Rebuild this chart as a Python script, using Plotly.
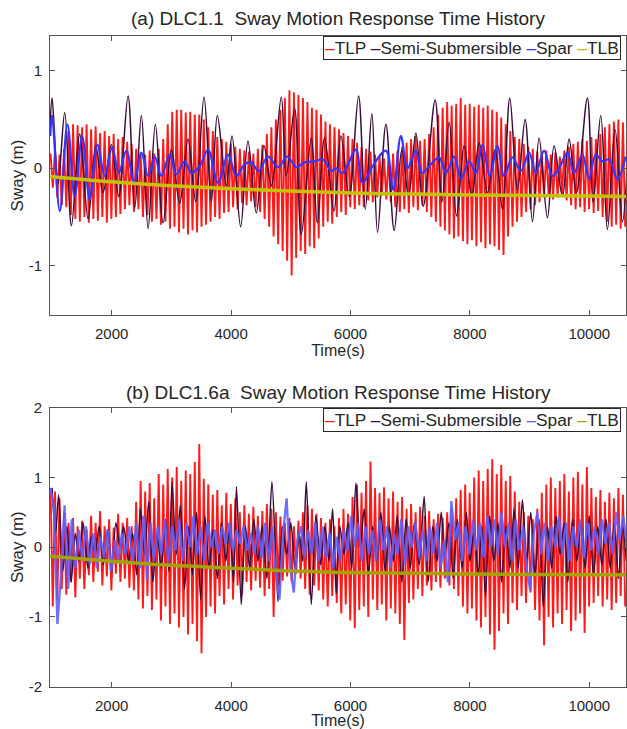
import plotly.graph_objects as go

# ---------------- data ----------------
# TLP: fast oscillation, listed as successive crest / trough values
TLP_START = 975.0     # time of first crest (s)
TLP_PERIOD = 75.5     # crest-to-crest spacing (s)

tlp_a_crest = [
    0.15, 0.18, 0.14, 0.20, 0.38, 0.45, 0.44, 0.42, 0.45, 0.40,
    0.43, 0.36, 0.38, 0.33, 0.35, 0.30, 0.32, 0.27, 0.25, 0.20,
    0.16, 0.14, 0.18, 0.15, 0.20, 0.30, 0.45, 0.58, 0.60, 0.60,
    0.57, 0.58, 0.55, 0.55, 0.50, 0.42, 0.38, 0.32, 0.30, 0.27,
    0.25, 0.22, 0.20, 0.18, 0.17, 0.15, 0.20, 0.24, 0.35, 0.42,
    0.50, 0.60, 0.72, 0.80, 0.78, 0.75, 0.72, 0.68, 0.62, 0.60,
    0.55, 0.48, 0.45, 0.42, 0.40, 0.36, 0.33, 0.30, 0.26, 0.22,
    0.20, 0.17, 0.14, 0.12, 0.10, 0.12, 0.15, 0.18, 0.22, 0.26,
    0.30, 0.33, 0.28, 0.30, 0.35, 0.42, 0.55, 0.62, 0.68, 0.64,
    0.66, 0.72, 0.65, 0.66, 0.63, 0.65, 0.62, 0.64, 0.60, 0.58,
    0.52, 0.45, 0.38, 0.32, 0.30, 0.25, 0.22, 0.20, 0.17, 0.15,
    0.18, 0.14, 0.16, 0.12, 0.18, 0.22, 0.25, 0.27, 0.30, 0.28,
    0.32, 0.30, 0.35, 0.42, 0.45, 0.48, 0.50, 0.47,
]
tlp_a_trough = [
    -0.20, -0.30, -0.38, -0.40, -0.48, -0.52, -0.55, -0.50, -0.56, -0.52,
    -0.54, -0.50, -0.56, -0.52, -0.50, -0.47, -0.42, -0.38, -0.45, -0.42,
    -0.50, -0.48, -0.55, -0.52, -0.58, -0.55, -0.62, -0.60, -0.66, -0.62,
    -0.68, -0.64, -0.66, -0.60, -0.58, -0.55, -0.50, -0.52, -0.46, -0.45,
    -0.40, -0.42, -0.36, -0.38, -0.34, -0.40, -0.45, -0.52, -0.60, -0.70,
    -0.78, -0.85, -0.95, -1.10, -0.92, -0.85, -0.88, -0.80, -0.82, -0.72,
    -0.60, -0.55, -0.57, -0.50, -0.45, -0.48, -0.40, -0.42, -0.38, -0.40,
    -0.33, -0.35, -0.30, -0.28, -0.32, -0.35, -0.40, -0.45, -0.42, -0.46,
    -0.40, -0.43, -0.38, -0.45, -0.50, -0.55, -0.60, -0.64, -0.68, -0.72,
    -0.70, -0.75, -0.78, -0.74, -0.80, -0.76, -0.82, -0.78, -0.80, -0.84,
    -0.89, -0.70, -0.60, -0.55, -0.50, -0.45, -0.42, -0.38, -0.35, -0.30,
    -0.28, -0.32, -0.30, -0.27, -0.33, -0.38, -0.42, -0.40, -0.45, -0.42,
    -0.46, -0.44, -0.50, -0.55, -0.60, -0.58, -0.62, -0.60,
]
tlp_b_crest = [
    0.85, 0.80, 0.70, 0.50, 0.35, 0.42, 0.30, 0.38, 0.25, 0.45,
    0.35, 0.52, 0.30, 0.40, 0.28, 0.48, 0.35, 0.42, 0.30, 0.65,
    0.95, 0.80, 0.92, 0.70, 1.05, 0.90, 1.12, 1.00, 1.15, 0.95,
    1.10, 1.05, 1.22, 1.48, 0.98, 0.90, 0.75, 0.82, 0.60, 0.78,
    0.62, 0.70, 0.50, 0.60, 0.48, 0.58, 0.45, 0.52, 0.62, 0.55,
    0.50, 0.44, 0.35, 0.42, 0.30, 0.38, 0.50, 0.60, 0.55, 0.48,
    0.42, 0.35, 0.40, 0.30, 0.42, 0.55, 0.48, 0.72, 0.90, 0.78,
    0.95, 1.23, 0.85, 0.78, 0.86, 0.70, 0.80, 0.65, 0.72, 0.55,
    0.62, 0.50, 0.58, 0.45, 0.52, 0.40, 0.48, 0.42, 0.50, 0.55,
    0.70, 0.82, 0.90, 0.78, 1.00, 1.10, 0.95, 1.12, 1.26, 1.05,
    1.18, 0.95, 1.02, 0.80, 0.65, 0.50, 0.45, 0.40, 0.55, 0.78,
    0.90, 1.00, 0.85, 0.95, 1.05, 0.80, 1.00, 1.08, 0.90, 1.15,
    0.85, 0.72, 0.82, 0.65, 0.78, 0.70, 0.85, 0.75,
]
tlp_b_trough = [
    -0.85, -0.75, -0.60, -0.68, -0.50, -0.72, -0.45, -0.60, -0.40, -0.50,
    -0.35, -0.55, -0.42, -0.62, -0.38, -0.50, -0.45, -0.58, -0.62, -0.75,
    -0.88, -0.70, -0.90, -0.75, -1.05, -0.85, -1.10, -0.95, -1.15, -1.00,
    -1.25, -1.10, -1.35, -1.52, -1.00, -0.85, -0.95, -0.70, -0.82, -0.60,
    -0.75, -0.55, -0.68, -0.50, -0.62, -0.48, -0.58, -0.70, -0.60, -1.00,
    -0.55, -0.48, -0.42, -0.50, -0.38, -0.45, -0.60, -0.68, -0.55, -0.62,
    -0.75, -0.85, -0.70, -0.80, -0.95, -0.82, -1.05, -1.16, -0.90, -0.85,
    -1.00, -0.75, -0.90, -0.82, -1.05, -0.88, -0.95, -1.10, -1.33, -0.80,
    -0.75, -0.60, -0.70, -0.55, -0.62, -0.50, -0.58, -0.45, -0.55, -0.60,
    -0.70, -0.85, -0.95, -0.88, -1.05, -1.15, -1.00, -1.25, -1.47, -1.20,
    -0.95, -1.10, -0.80, -0.90, -0.70, -0.80, -0.65, -0.90, -1.05, -1.41,
    -1.00, -1.15, -0.95, -1.10, -0.90, -1.20, -1.05, -0.95, -1.23, -0.85,
    -0.80, -0.70, -0.85, -0.75, -0.90, -0.80, -0.70, -0.85,
]

# Semi-submersible: turning points (time, value)
semi_a_t = [970, 1001, 1102, 1213, 1325, 1465, 1604, 1732, 1855, 1995,
            2117, 2274, 2385, 2497, 2609, 2731, 2860, 2999, 3139, 3278,
            3406, 3546, 3669, 3769, 3920, 4015, 4160, 4282, 4422, 4550,
            4673, 4841, 4924, 5064, 5175, 5343, 5443, 5566, 5722, 5839,
            5979, 6135, 6247, 6358, 6453, 6593, 6732, 6860, 6972, 7095,
            7218, 7418, 7530, 7653, 7776, 7904, 8032, 8155, 8294, 8423,
            8546, 8668, 8797, 8925, 9048, 9159, 9299, 9410, 9550, 9662,
            9784, 9968, 10063, 10192, 10303, 10432, 10555, 10640]
semi_a_v = [0.45, 0.72, -0.15, 0.57, -0.59, 0.35, -0.52, 0.23, -0.25, 0.24,
            -0.29, 0.74, -0.41, 0.54, -0.62, 0.45, -0.56, 0.19, -0.36, 0.30,
            -0.34, 0.73, -0.34, 0.54, -0.18, 0.33, -0.60, 0.28, -0.46, 0.23,
            -0.18, 0.73, -0.08, 0.61, -0.68, 0.31, -0.56, 0.31, -0.44, 0.33,
            -0.29, 0.74, -0.42, 0.56, -0.66, 0.45, -0.64, 0.19, -0.29, 0.36,
            -0.39, 0.70, -0.35, 0.47, -0.49, 0.23, -0.29, 0.26, -0.25, 0.19,
            -0.42, 0.72, -0.22, 0.50, -0.55, 0.31, -0.51, 0.23, -0.29, 0.30,
            -0.25, 0.72, -0.35, 0.54, -0.63, 0.40, -0.55, 0.05]

semi_b_t = [1000, 1060, 1110, 1180, 1250, 1320, 1390, 1450, 1520, 1600,
            1660, 1720, 1790, 1860, 1930, 2000, 2070, 2140, 2200, 2280,
            2350, 2420, 2480, 2550, 2620, 2690, 2760, 2830, 2900, 2960,
            3010, 3080, 3150, 3220, 3290, 3350, 3420, 3490, 3560, 3630,
            3700, 3770, 3840, 3910, 3980, 4040, 4090, 4170, 4240, 4310,
            4380, 4450, 4520, 4600, 4684, 4785, 4860, 4930, 5000, 5070,
            5140, 5200, 5259, 5343, 5420, 5500, 5570, 5640, 5700, 5760,
            5820, 5890, 5960, 6020, 6090, 6160, 6230, 6300, 6370, 6440,
            6510, 6580, 6650, 6720, 6780, 6860, 6930, 7000, 7070, 7150,
            7234, 7300, 7380, 7450, 7520, 7580, 7650, 7720, 7790, 7870,
            7940, 8000, 8070, 8140, 8200, 8260, 8330, 8400, 8470, 8530,
            8600, 8670, 8740, 8810, 8880, 8950, 9020, 9090, 9160, 9230,
            9300, 9370, 9440, 9510, 9580, 9640, 9720, 9790, 9860, 9930,
            10000, 10070, 10140, 10210, 10280, 10350, 10420, 10490, 10560, 10620]
semi_b_v = [0.85, 0.2, 0.75, -0.35, 0.3, -0.5, 0.2, -0.2, 0.35, -0.3,
            0.15, -0.1, 0.3, -0.25, 0.25, -0.35, 0.35, 0.0, 0.3, -0.2,
            0.2, -0.4, 0.55, -0.1, 0.65, -0.5, 0.2, -0.3, 0.4, -0.35,
            0.94, -0.1, 0.6, -0.6, 0.3, -0.4, 0.5, -0.75, 0.45, -0.3,
            0.25, -0.45, 0.35, -0.2, 0.3, -0.5, 0.87, -0.82, 0.3, -0.3,
            0.4, -0.2, 0.3, -0.45, 0.94, -0.78, 0.3, -0.1, 0.35, -0.3,
            0.2, -0.2, 0.94, -0.82, 0.45, -0.25, 0.3, -0.2, 0.55, -0.66,
            0.3, -0.1, 0.35, -0.3, 0.92, 0.0, 0.55, -0.4, 0.3, -0.2,
            0.5, -0.35, 0.3, -0.2, 0.45, -0.5, 0.4, -0.3, 0.35, -0.25,
            0.73, -0.5, 0.3, -0.2, 0.5, -0.1, 0.35, -0.45, 0.4, -0.3,
            0.5, -0.2, 0.25, -0.4, 0.3, -0.7, 0.45, -0.2, 0.35, -0.5,
            0.3, -0.3, 0.55, -0.3, 0.68, -0.2, 0.5, -0.4, 0.4, -0.85,
            0.3, -0.3, 0.45, -0.1, 0.35, -0.5, 0.4, -0.2, 0.35, -0.3,
            0.45, -0.4, 0.3, -0.25, 0.4, -0.3, 0.35, -0.45, 0.3, -0.2]

# Spar: turning points for DLC1.1, regularly sampled record for DLC1.6a
spar_a_t = [970, 1001, 1130, 1258, 1381, 1504, 1632, 1760, 1883, 2006,
            2117, 2246, 2374, 2497, 2609, 2720, 2832, 2971, 3083, 3222,
            3334, 3473, 3613, 3780, 3948, 4087, 4227, 4338, 4461, 4617,
            4785, 4941, 5092, 5231, 5399, 5538, 5678, 5756, 5867, 6090,
            6202, 6369, 6593, 6715, 6844, 6955, 7095, 7195, 7318, 7485,
            7597, 7737, 7848, 7988, 8099, 8211, 8333, 8462, 8573, 8713,
            8853, 8992, 9104, 9243, 9383, 9494, 9634, 9745, 9885, 9996,
            10108, 10220, 10331, 10471, 10610]
spar_a_v = [0.33, 0.54, -0.44, 0.45, -0.29, 0.33, -0.32, 0.24, -0.08, 0.21,
            -0.05, 0.18, -0.15, 0.16, -0.08, 0.12, -0.08, 0.14, -0.06, 0.07,
            -0.05, 0.02, 0.19, -0.15, 0.14, -0.08, 0.04, 0.06, -0.03, 0.12,
            0.01, 0.12, 0.01, 0.06, 0.07, 0.09, -0.03, 0.0, -0.05, 0.19,
            -0.15, 0.02, 0.18, -0.22, 0.33, 0.0, 0.18, -0.05, 0.02, 0.11,
            -0.05, 0.12, -0.11, 0.07, -0.05, 0.24, -0.08, 0.23, -0.08, 0.11,
            -0.03, 0.16, -0.05, 0.18, -0.08, 0.0, 0.16, -0.05, 0.14, -0.11,
            0.14, 0.07, 0.09, -0.11, 0.12]

SPAR_B_START = 970.0   # first sample (s)
SPAR_B_STEP = 60.0     # sample spacing (s)
spar_b_v = [
    0.85, 0.6, -1.1, -0.4, 0.6, -0.6, 0.4, -0.3, 0.25, -0.2,
    0.3, -0.25, 0.2, -0.3, 0.15, -0.15, 0.25, -0.35, 0.1, -0.2,
    0.2, -0.1, 0.3, -0.25, 0.35, -0.3, 0.45, -0.47, 0.35, -0.2,
    0.3, -0.1, 0.4, -0.25, 0.3, -0.05, 0.4, -0.2, 0.35, 0.0,
    0.45, -0.1, 0.3, -0.2, 0.35, 0.0, 0.25, -0.1, 0.3, 0.05,
    0.35, -0.05, 0.25, 0.05, 0.3, -0.05, 0.2, -0.1, 0.3, -0.15,
    0.35, -0.2, 0.3, -0.4, -0.75, 0.2, 0.7, -0.3, -0.65, 0.1,
    0.3, -0.15, 0.25, -0.1, 0.35, -0.2, 0.3, -0.15, 0.2, -0.3,
    0.15, -0.2, 0.25, -0.05, 0.45, 0.0, 0.35, -0.2, 0.3, -0.1,
    0.25, -0.2, 0.4, -0.05, 0.3, -0.3, 0.2, -0.1, 0.4, -0.25,
    0.3, 0.0, 0.35, -0.15, 0.25, -0.2, 0.3, -0.1, 0.35, -0.3,
    0.1, -0.5, 0.66, 0.1, 0.35, -0.2, 0.3, -0.1, 0.4, -0.05,
    0.35, -0.15, 0.45, 0.0, 0.4, -0.1, 0.5, 0.0, 0.35, -0.2,
    0.4, -0.05, 0.3, -0.3, -0.62, 0.2, 0.5, -0.1, 0.35, -0.2,
    0.3, 0.0, 0.45, -0.1, 0.35, -0.2, 0.3, 0.0, 0.4, -0.15,
    0.35, -0.05, 0.3, -0.1, 0.4, 0.05, 0.35, -0.1, 0.5, 0.1,
    0.45, 0.0,
]

# TLB: slow drift
tlb_t = [970, 2000, 3000, 4000, 5000, 6000, 7000, 8000, 9000, 10000, 10640]
tlb_a = [-0.085, -0.14, -0.18, -0.21, -0.235, -0.255, -0.265, -0.275, -0.28, -0.285, -0.29]
tlb_b = [-0.13, -0.20, -0.26, -0.30, -0.34, -0.365, -0.375, -0.385, -0.39, -0.395, -0.395]

x_ticks = [2000, 4000, 6000, 8000, 10000]
x_tick_text = ["2000", "4000", "6000", "8000", "10000"]
ya_ticks = [-1, 0, 1]
ya_tick_text = ["-1", "0", "1"]
yb_ticks = [-2, -1, 0, 1, 2]
yb_tick_text = ["-2", "-1", "0", "1", "2"]

titles = ["(a) DLC1.1\u00a0 Sway Motion Response Time History",
          "(b) DLC1.6a\u00a0 Sway Motion Response Time History"]
names = ["TLP", "Semi-Submersible", "Spar", "TLB"]


# ---------------- helpers ----------------
def tlp_series(crest, trough):
    n = min(len(crest), len(trough))
    t, v = [], []
    for i in range(n):
        tc = TLP_START + i * TLP_PERIOD
        t += [tc, tc + TLP_PERIOD / 2]
        v += [crest[i], trough[i]]
    return t, v


FONT = "Liberation Sans, Arial, Helvetica, sans-serif"
TXT = "#262626"
AX = "#555555"

C_TLP = "#ff1a1a"
C_SEMI = "#3a0d3a"
C_SPAR_A = "#3535ff"
C_SPAR_B = "rgba(95,95,255,0.9)"
C_TLB_A = "#c2c200"
C_TLB_B = "#a3a300"

fig = go.Figure()

# panel (a)
ta, va = tlp_series(tlp_a_crest, tlp_a_trough)
fig.add_trace(go.Scatter(x=ta, y=va, mode="lines", name=names[0],
                         line=dict(color=C_TLP, width=1.9), xaxis="x", yaxis="y"))
fig.add_trace(go.Scatter(x=semi_a_t, y=semi_a_v, mode="lines", name=names[1],
                         line=dict(color=C_SEMI, width=1.5, shape="spline", smoothing=1.0),
                         xaxis="x", yaxis="y"))
fig.add_trace(go.Scatter(x=spar_a_t, y=spar_a_v, mode="lines", name=names[2],
                         line=dict(color=C_SPAR_A, width=2.2, shape="spline", smoothing=1.0),
                         xaxis="x", yaxis="y"))
fig.add_trace(go.Scatter(x=tlb_t, y=tlb_a, mode="lines", name=names[3],
                         line=dict(color=C_TLB_A, width=3.5, shape="spline"),
                         xaxis="x", yaxis="y"))

# panel (b)
tb, vb = tlp_series(tlp_b_crest, tlp_b_trough)
spar_b_t = [SPAR_B_START + i * SPAR_B_STEP for i in range(len(spar_b_v))]
fig.add_trace(go.Scatter(x=tb, y=vb, mode="lines", name=names[0],
                         line=dict(color=C_TLP, width=1.9), xaxis="x2", yaxis="y2"))
fig.add_trace(go.Scatter(x=semi_b_t, y=semi_b_v, mode="lines", name=names[1],
                         line=dict(color=C_SEMI, width=1.5, shape="spline", smoothing=0.8),
                         xaxis="x2", yaxis="y2"))
fig.add_trace(go.Scatter(x=spar_b_t, y=spar_b_v, mode="lines", name=names[2],
                         line=dict(color=C_SPAR_B, width=2.3),
                         xaxis="x2", yaxis="y2"))
fig.add_trace(go.Scatter(x=tlb_t, y=tlb_b, mode="lines", name=names[3],
                         line=dict(color=C_TLB_B, width=3.5, shape="spline"),
                         xaxis="x2", yaxis="y2"))

H = 729.0


def ydom(top_px, bottom_px):
    return [1 - bottom_px / H, 1 - top_px / H]


xcommon = dict(
    range=[966, 10615], tickmode="array", tickvals=x_ticks, ticktext=x_tick_text,
    ticks="inside", ticklen=5, tickwidth=1, tickcolor=AX,
    showline=True, linecolor=AX, linewidth=1, mirror="ticks",
    showgrid=False, zeroline=False, ticklabelstandoff=5,
    tickfont=dict(family=FONT, size=15, color=TXT),
    title=dict(text="Time(s)", font=dict(family=FONT, size=16, color=TXT), standoff=0),
    automargin=False,
)
ycommon = dict(
    ticks="inside", ticklen=5, tickwidth=1, tickcolor=AX,
    showline=True, linecolor=AX, linewidth=1, mirror="ticks",
    showgrid=False, zeroline=False, ticklabelstandoff=4,
    tickfont=dict(family=FONT, size=15, color=TXT),
    title=dict(text="Sway (m)", font=dict(family=FONT, size=17, color=TXT), standoff=0),
    automargin=False,
)

fig.update_layout(
    width=627, height=729,
    margin=dict(l=50, r=1, t=0, b=0),
    paper_bgcolor="white", plot_bgcolor="white",
    showlegend=False,
    font=dict(family=FONT, color=TXT),
    xaxis=dict(domain=[0, 1], anchor="y", **xcommon),
    yaxis=dict(domain=ydom(36, 315), anchor="x", range=[-1.506, 1.356],
               tickmode="array", tickvals=ya_ticks, ticktext=ya_tick_text, **ycommon),
    xaxis2=dict(domain=[0, 1], anchor="y2", **xcommon),
    yaxis2=dict(domain=ydom(407.7, 686.7), anchor="x2", range=[-2, 2],
                tickmode="array", tickvals=yb_ticks, ticktext=yb_tick_text, **ycommon),
)

# panel titles
for title, ypx in zip(titles, [19, 392]):
    fig.add_annotation(text=title, xref="paper", yref="paper", x=0.5, y=1 - ypx / H,
                       xanchor="center", yanchor="middle", showarrow=False,
                       font=dict(family=FONT, size=19, color=TXT))

# legend boxes (one per panel), coloured dash before each series name
colors_a = [C_TLP, C_SEMI, C_SPAR_A, C_TLB_A]
colors_b = [C_TLP, C_SEMI, "#6060ff", C_TLB_B]
for cols, top_px in [(colors_a, 36), (colors_b, 407.7)]:
    parts = []
    for c, n in zip(cols, names):
        parts.append(f"<span style='color:{c}'>\u2013</span>{n}")
    fig.add_annotation(text=" ".join(parts), xref="paper", yref="paper",
                       x=(323 - 50) / 576, y=1 - top_px / H, xanchor="left", yanchor="top",
                       showarrow=False, align="left",
                       font=dict(family=FONT, size=17.3, color=TXT),
                       bgcolor="white", bordercolor=TXT, borderwidth=1, borderpad=1)

fig.write_html("out.html", config={"displayModeBar": False})
